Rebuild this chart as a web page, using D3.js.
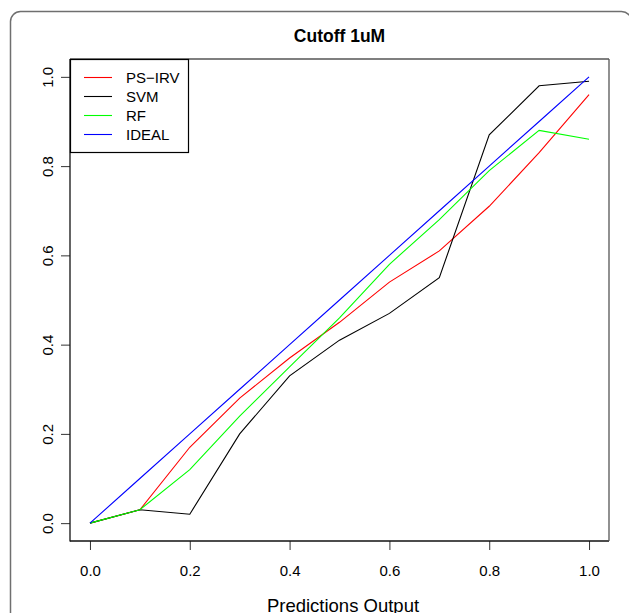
<!DOCTYPE html>
<html>
<head>
<meta charset="utf-8">
<script src="https://cdn.jsdelivr.net/npm/d3@7"></script>
<style>
  html, body { margin: 0; padding: 0; background: #fff; }
  svg { display: block; }
  text { font-family: "Liberation Sans", Arial, Helvetica, sans-serif; fill: #000; }
</style>
</head>
<body>
<svg id="chart" width="629" height="613"></svg>
<script>
// Calibration curves: observed fraction vs. prediction output
const xValues   = [0.0, 0.1, 0.2, 0.3, 0.4, 0.5, 0.6, 0.7, 0.8, 0.9, 1.0];
const psirv     = [0.0, 0.03, 0.17, 0.28, 0.37, 0.45, 0.54, 0.61, 0.71, 0.83, 0.96];
const svm       = [0.0, 0.03, 0.02, 0.20, 0.33, 0.41, 0.47, 0.55, 0.87, 0.98, 0.99];
const rf        = [0.0, 0.03, 0.12, 0.24, 0.35, 0.46, 0.58, 0.68, 0.79, 0.88, 0.86];
const ideal     = [0.0, 0.1, 0.2, 0.3, 0.4, 0.5, 0.6, 0.7, 0.8, 0.9, 1.0];
const seriesNames  = ["PS\u2212IRV", "SVM", "RF", "IDEAL"];
const seriesColors = ["#ff0000", "#000000", "#00ff00", "#0000ff"];
const tickValues   = [0.0, 0.2, 0.4, 0.6, 0.8, 1.0];
const chartTitle = "Cutoff 1uM";
const xTitle = "Predictions Output";

const seriesValues = [psirv, svm, rf, ideal];

const svg = d3.select("#chart");

// Rounded frame around the figure
svg.append("rect")
  .attr("x", 10.5).attr("y", 11.5)
  .attr("width", 621).attr("height", 640)
  .attr("rx", 10).attr("ry", 10)
  .attr("fill", "none")
  .attr("stroke", "#6f6f6f")
  .attr("stroke-width", 1.5);

const plot = { left: 70, right: 609, top: 59, bottom: 541 };

const x = d3.scaleLinear().domain([-0.04, 1.04]).range([plot.left, plot.right]);
const y = d3.scaleLinear().domain([-0.04, 1.04]).range([plot.bottom, plot.top]);

// Axes
const xAxis = svg.append("g")
  .attr("transform", `translate(0,${plot.bottom})`)
  .call(d3.axisBottom(x).tickValues(tickValues).tickFormat(d3.format(".1f"))
    .tickSize(9).tickPadding(15));
xAxis.select(".domain").remove();
xAxis.selectAll("line").attr("stroke", "#333");
xAxis.selectAll("text").attr("font-size", 15).attr("font-family", null);

const yAxis = svg.append("g")
  .attr("transform", `translate(${plot.left},0)`)
  .call(d3.axisLeft(y).tickValues(tickValues).tickFormat(d3.format(".1f"))
    .tickSize(9));
yAxis.select(".domain").remove();
yAxis.selectAll("line").attr("stroke", "#333");
yAxis.selectAll("text")
  .attr("font-size", 15).attr("font-family", null)
  .attr("x", 0).attr("y", -17).attr("dy", null)
  .attr("text-anchor", "middle")
  .attr("transform", "rotate(-90)");

// Series lines
const line = d3.line()
  .x((d, i) => x(xValues[i]))
  .y(d => y(d));

seriesValues.forEach((vals, k) => {
  svg.append("path")
    .datum(vals)
    .attr("d", line)
    .attr("fill", "none")
    .attr("stroke", seriesColors[k])
    .attr("stroke-width", 1.1);
});

// Plot box
svg.append("line").attr("x1", plot.left).attr("x2", plot.left)
  .attr("y1", plot.top).attr("y2", plot.bottom + 0.5)
  .attr("stroke", "#111").attr("stroke-width", 1.3);
svg.append("line").attr("x1", plot.left).attr("x2", plot.right)
  .attr("y1", plot.bottom).attr("y2", plot.bottom)
  .attr("stroke", "#111").attr("stroke-width", 1.3);
svg.append("line").attr("x1", plot.left).attr("x2", plot.right)
  .attr("y1", plot.top).attr("y2", plot.top)
  .attr("stroke", "#555").attr("stroke-width", 1.3);
svg.append("line").attr("x1", plot.right).attr("x2", plot.right)
  .attr("y1", plot.top).attr("y2", plot.bottom)
  .attr("stroke", "#555").attr("stroke-width", 1.3);

// Legend
const legend = svg.append("g");
legend.append("rect")
  .attr("x", plot.left + 0.5).attr("y", plot.top + 0.5)
  .attr("width", 118).attr("height", 93)
  .attr("fill", "#fff")
  .attr("stroke", "#000").attr("stroke-width", 1.2);

seriesNames.forEach((name, k) => {
  const ry = 77.5 + k * 19;
  legend.append("line")
    .attr("x1", 84).attr("x2", 112)
    .attr("y1", ry).attr("y2", ry)
    .attr("stroke", seriesColors[k]).attr("stroke-width", 1.1);
  legend.append("text")
    .attr("x", 126).attr("y", ry)
    .attr("dy", "0.36em")
    .attr("font-size", 15)
    .text(name);
});

// Titles
svg.append("text")
  .attr("x", (plot.left + plot.right) / 2)
  .attr("y", 42)
  .attr("text-anchor", "middle")
  .attr("font-size", 17.5)
  .attr("font-weight", "bold")
  .text(chartTitle);

svg.append("text")
  .attr("x", 343)
  .attr("y", 612)
  .attr("text-anchor", "middle")
  .attr("font-size", 18.5)
  .text(xTitle);
</script>
</body>
</html>
